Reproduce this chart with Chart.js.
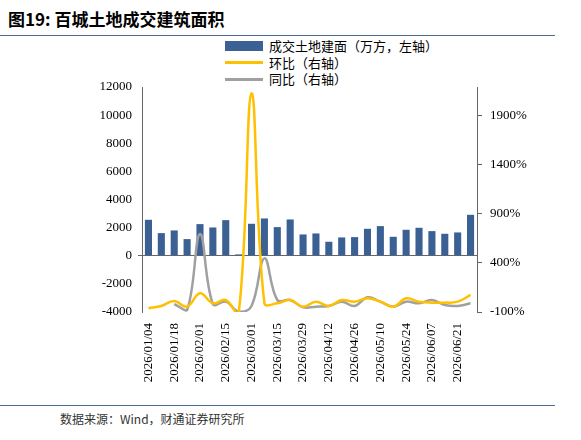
<!DOCTYPE html>
<html><head><meta charset="utf-8">
<script src="https://cdn.jsdelivr.net/npm/chart.js@4"></script>
<style>
body{margin:0;background:#fff;}
#wrap{position:relative;width:581px;height:440px;font-family:"Liberation Serif","Noto Sans CJK SC",serif;}
#title{position:absolute;left:8px;top:6px;font:bold 17px "Noto Sans CJK SC";color:#000;}
.hl{position:absolute;left:0;width:555px;height:1px;background:#4a6a9a;}
#src{position:absolute;left:60px;top:410px;font:12px "Noto Sans CJK SC";color:#333;}
#leg{position:absolute;left:225px;top:38px;font:13px "Noto Sans CJK SC";color:#000;line-height:16.5px;}
#leg div{display:flex;align-items:center;}
.sw{display:inline-block;margin-right:6px;}
canvas{position:absolute;left:0;top:0;}
</style></head><body>
<div id="wrap">
<div id="title">图19: 百城土地成交建筑面积</div>
<div class="hl" style="top:35px"></div>
<div id="leg">
<div><span class="sw" style="width:38px;height:10px;background:#3A6094"></span>成交土地建面（万方，左轴）</div>
<div><span class="sw" style="width:38px;height:3px;background:#FFC000"></span>环比（右轴）</div>
<div><span class="sw" style="width:38px;height:3px;background:#A0A0A0"></span>同比（右轴）</div>
</div>
<div class="hl" style="top:405px"></div>
<div id="src">数据来源：Wind，财通证券研究所</div>
<canvas id="c" width="581" height="440"></canvas>
</div>
<script>
const weeks=["2026/01/04","2026/01/11","2026/01/18","2026/01/25","2026/02/01","2026/02/08","2026/02/15","2026/02/22","2026/03/01","2026/03/08","2026/03/15","2026/03/22","2026/03/29","2026/04/05","2026/04/12","2026/04/19","2026/04/26","2026/05/03","2026/05/10","2026/05/17","2026/05/24","2026/05/31","2026/06/07","2026/06/14","2026/06/21","2026/06/28"];
const area=[2557,1610,1800,1184,2250,2012,2533,95,2273,2652,2036,2580,1515,1586,994,1302,1326,1918,2107,1349,1847,1989,1752,1562,1657,2912];
const mom=[-62,-39,12,-46,90,-12,22,-113,2122,-9,-12,22,-46,5,-39,22,5,39,5,-46,39,5,-5,-5,5,73];
const yoy=[null,null,-19,-80,693,-19,5,-96,-39,445,22,22,-52,-46,-39,5,-39,49,5,-46,5,-12,22,-29,-39,-12];
const leftTicks=[-4000,-2000,0,2000,4000,6000,8000,10000,12000];
const rightTicks=[-100,400,900,1400,1900];
const f={family:"Liberation Serif",size:13};
new Chart(document.getElementById('c'),{
data:{labels:weeks,datasets:[
{type:'bar',data:area,backgroundColor:'#3A6094',yAxisID:'y',barPercentage:0.55,categoryPercentage:1,order:3},
{type:'line',data:mom,borderColor:'#FFC000',borderWidth:2.5,pointRadius:0,tension:0.4,yAxisID:'y1',order:1},
{type:'line',data:yoy,borderColor:'#A0A0A0',borderWidth:2.5,pointRadius:0,tension:0.4,yAxisID:'y1',order:2}]},
options:{responsive:false,animation:false,
layout:{padding:{top:87,bottom:48,left:0,right:0}},
plugins:{legend:{display:false},tooltip:{enabled:false}},
scales:{
x:{grid:{display:false},border:{display:false},
 ticks:{font:f,color:'#000',maxRotation:90,minRotation:90,autoSkip:false,callback:function(v,i){return i%2===0?weeks[i]:'';}},
 afterFit:s=>{s.height=80;}},
y:{position:'left',min:-4000,max:12000,afterBuildTicks:s=>{s.ticks=leftTicks.map(v=>({value:v}));},
 ticks:{font:f,color:'#000',padding:6,callback:v=>String(v)},border:{color:'#666'},
 grid:{drawOnChartArea:true,tickLength:4,color:c=>c.tick&&c.tick.value===0?'#666':'rgba(0,0,0,0)'},
 afterFit:s=>{s.width=142;}},
y1:{position:'right',min:-100,max:2187,afterBuildTicks:s=>{s.ticks=rightTicks.map(v=>({value:v}));},
 ticks:{font:f,color:'#000',padding:8,callback:v=>v+'%'},border:{color:'#666'},
 grid:{drawOnChartArea:false,tickLength:5,color:'#666'},
 afterFit:s=>{s.width=104;}}
}}});
</script></body></html>
